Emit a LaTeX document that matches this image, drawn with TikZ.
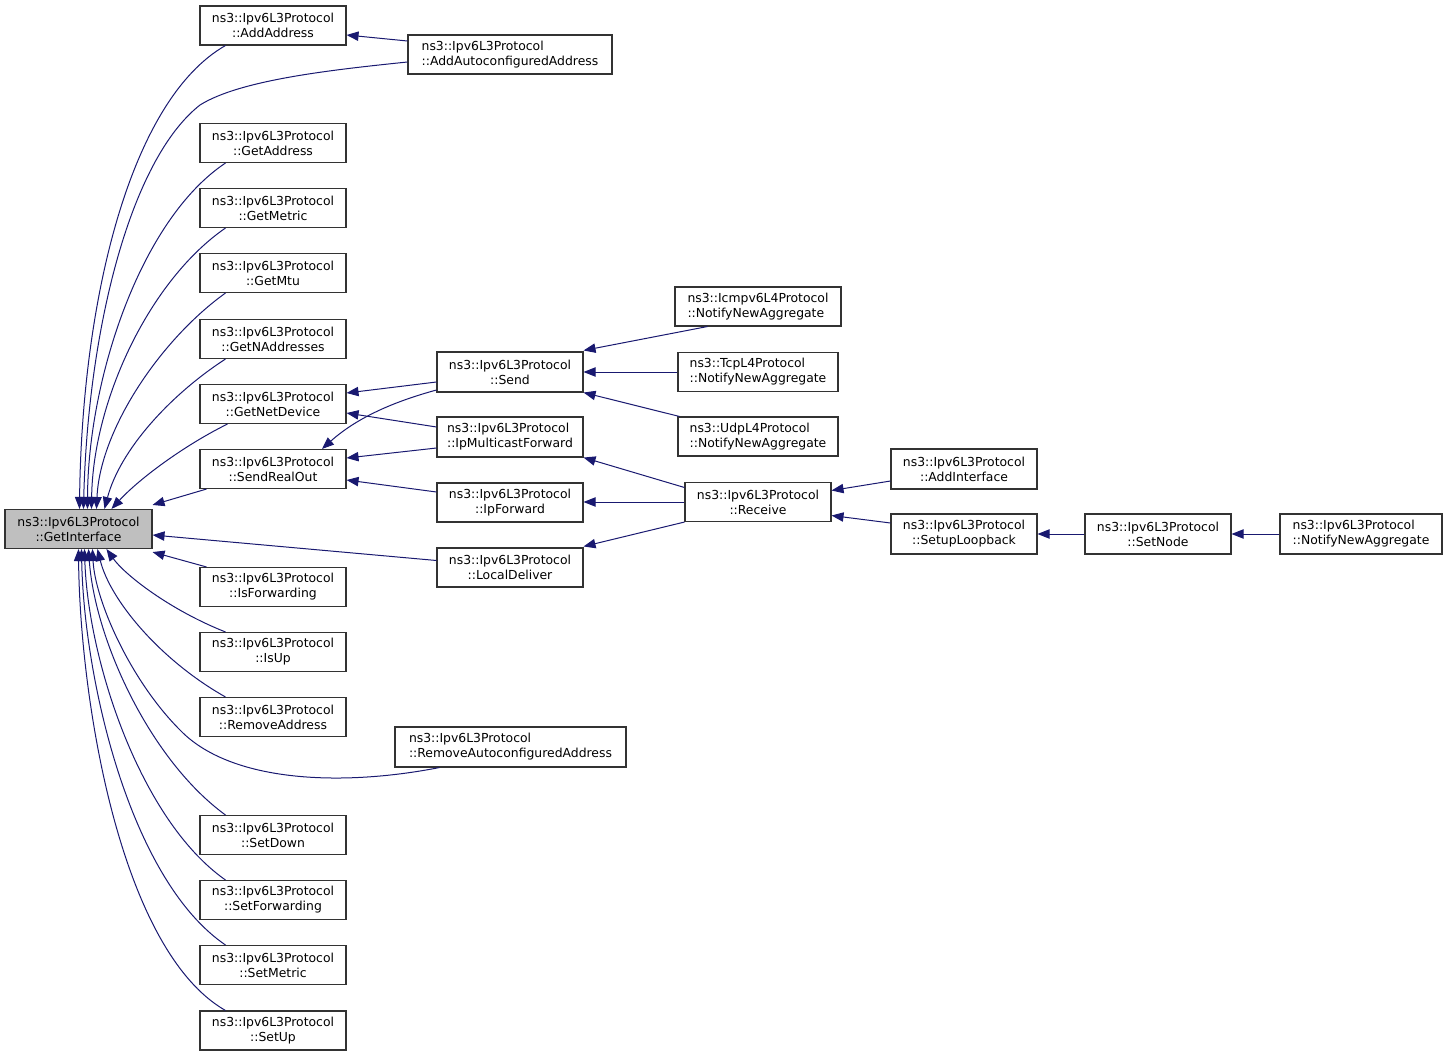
\documentclass[tikz,border=0pt]{standalone}
\usepackage{fontspec}
\setmainfont{DejaVu Sans}
\usetikzlibrary{arrows.meta,calc}
\definecolor{edgecol}{HTML}{191970}
\definecolor{boxline}{HTML}{333333}
\definecolor{hifill}{HTML}{BFBFBF}
\begin{document}
\begin{tikzpicture}[x=0.75pt,y=-0.75pt,
  box/.style={draw=boxline,line width=0.8pt,fill=white,inner sep=0pt,align=center,
    minimum height=29.25pt,font=\fontsize{9.3}{11.2}\selectfont},
  lbox/.style={box,align=left},
  w146/.style={minimum width=109.5pt},
  edge/.style={draw=edgecol,line width=0.75pt,-{Triangle[length=9pt,width=7pt]}}]
\useasboundingbox (0,0) rectangle (1448,1056);
% nodes
\node[box,w146,minimum width=110.25pt,fill=hifill] (GI) at (78.5,529) {ns3::Ipv6L3Protocol\\::GetInterface};
\node[box,w146] (AA) at (273,25.5) {ns3::Ipv6L3Protocol\\::AddAddress};
\node[lbox,minimum width=153pt] (AAC) at (510,54.5) {ns3::Ipv6L3Protocol\\::AddAutoconfiguredAddress};
\node[box,w146] (GA) at (273,143) {ns3::Ipv6L3Protocol\\::GetAddress};
\node[box,w146] (GM) at (273,208) {ns3::Ipv6L3Protocol\\::GetMetric};
\node[box,w146] (GMtu) at (273,273) {ns3::Ipv6L3Protocol\\::GetMtu};
\node[box,w146] (GN) at (273,339) {ns3::Ipv6L3Protocol\\::GetNAddresses};
\node[box,w146] (GND) at (273,404) {ns3::Ipv6L3Protocol\\::GetNetDevice};
\node[box,w146] (SRO) at (273,469) {ns3::Ipv6L3Protocol\\::SendRealOut};
\node[box,w146] (IF) at (273,587) {ns3::Ipv6L3Protocol\\::IsForwarding};
\node[box,w146] (IU) at (273,652) {ns3::Ipv6L3Protocol\\::IsUp};
\node[box,w146] (RA) at (273,717) {ns3::Ipv6L3Protocol\\::RemoveAddress};
\node[lbox,minimum width=173.25pt,minimum height=30pt] (RAC) at (510.5,747) {ns3::Ipv6L3Protocol\\::RemoveAutoconfiguredAddress};
\node[box,w146] (SD) at (273,835) {ns3::Ipv6L3Protocol\\::SetDown};
\node[box,w146] (SF) at (273,900) {ns3::Ipv6L3Protocol\\::SetForwarding};
\node[box,w146] (SM) at (273,965) {ns3::Ipv6L3Protocol\\::SetMetric};
\node[box,w146] (SU) at (273,1030.5) {ns3::Ipv6L3Protocol\\::SetUp};
\node[box,w146,minimum height=30pt] (SE) at (510,372) {ns3::Ipv6L3Protocol\\::Send};
\node[lbox,w146,minimum height=30pt] (IMF) at (510,437) {ns3::Ipv6L3Protocol\\::IpMulticastForward};
\node[box,w146] (IPF) at (510,502.5) {ns3::Ipv6L3Protocol\\::IpForward};
\node[box,w146] (LD) at (510,567.5) {ns3::Ipv6L3Protocol\\::LocalDeliver};
\node[lbox,minimum width=124.5pt] (ICM) at (758,306.5) {ns3::Icmpv6L4Protocol\\::NotifyNewAggregate};
\node[lbox,minimum width=120pt] (TCP) at (758,372) {ns3::TcpL4Protocol\\::NotifyNewAggregate};
\node[lbox,minimum width=120pt] (UDP) at (758,436.5) {ns3::UdpL4Protocol\\::NotifyNewAggregate};
\node[box,w146] (RCV) at (758,502) {ns3::Ipv6L3Protocol\\::Receive};
\node[box,w146,minimum height=30pt] (AI) at (964,469) {ns3::Ipv6L3Protocol\\::AddInterface};
\node[box,w146,minimum height=30pt] (SL) at (964,534) {ns3::Ipv6L3Protocol\\::SetupLoopback};
\node[box,w146,minimum height=30pt] (SN) at (1158,534) {ns3::Ipv6L3Protocol\\::SetNode};
\node[lbox,minimum width=121.5pt,minimum height=30pt] (NNA) at (1361,534) {ns3::Ipv6L3Protocol\\::NotifyNewAggregate};
% edges into GetInterface (top)
\draw[edge] ($(AA.south west)+(26,0)$) .. controls (130,100) and (82,300) .. ($(GI.north west)+(75,0)$);
\draw[edge] ($(AAC.west)+(0,7.5)$) .. controls (330,70) and (240,80) .. (200,105) .. controls (130,160) and (88,330) .. ($(GI.north west)+(79,0)$);
\draw[edge] ($(GA.south west)+(26,0)$) .. controls (140,220) and (88,380) .. ($(GI.north west)+(83,0)$);
\draw[edge] ($(GM.south west)+(26,0)$) .. controls (150,280) and (93,400) .. ($(GI.north west)+(87,0)$);
\draw[edge] ($(GMtu.south west)+(26,0)$) .. controls (160,340) and (100,430) .. ($(GI.north west)+(92,0)$);
\draw[edge] ($(GN.south west)+(26,0)$) .. controls (170,395) and (120,450) .. ($(GI.north west)+(100,0)$);
\draw[edge] ($(GND.south west)+(28,0)$) .. controls (185,445) and (140,478) .. ($(GI.north west)+(107,0)$);
\draw[edge] ($(SRO.south west)+(7,0)$) -- ($(GI.north east)+(0,-4)$);
% edges into GetInterface (right / bottom)
\draw[edge] ($(LD.west)+(0,-7)$) -- ($(GI.east)+(0,6)$);
\draw[edge] ($(IF.north west)+(7,0)$) -- ($(GI.south east)+(0,3)$);
\draw[edge] ($(IU.north west)+(26,0)$) .. controls (170,610) and (125,575) .. ($(GI.south west)+(102,0)$);
\draw[edge] ($(RA.north west)+(26,0)$) .. controls (160,660) and (110,600) .. ($(GI.south west)+(93,0)$);
\draw[edge] ($(RAC.south west)+(45,0)$) .. controls (340,787) and (230,782) .. (180,730) .. controls (130,680) and (95,600) .. ($(GI.south west)+(88,0)$);
\draw[edge] ($(SD.north west)+(26,0)$) .. controls (150,760) and (95,640) .. ($(GI.south west)+(84,0)$);
\draw[edge] ($(SF.north west)+(26,0)$) .. controls (140,820) and (88,660) .. ($(GI.south west)+(80,0)$);
\draw[edge] ($(SM.north west)+(26,0)$) .. controls (130,880) and (84,680) .. ($(GI.south west)+(77,0)$);
\draw[edge] ($(SU.north west)+(26,0)$) .. controls (120,950) and (80,700) .. ($(GI.south west)+(74,0)$);
% other edges
\draw[edge] ($(AAC.west)+(0,-13.5)$) -- ($(AA.east)+(0,9.5)$);
\draw[edge] ($(SE.west)+(0,10)$) -- ($(GND.east)+(0,-11)$);
\draw[edge] ($(SE.west)+(0,18)$) .. controls (400,400) and (360,415) .. ($(SRO.north)+(49,0)$);
\draw[edge] ($(IMF.west)+(0,-10)$) -- ($(GND.east)+(0,9)$);
\draw[edge] ($(IMF.west)+(0,11)$) -- ($(SRO.east)+(0,-11)$);
\draw[edge] ($(IPF.west)+(0,-10.5)$) -- ($(SRO.east)+(0,11)$);
\draw[edge] ($(ICM.south west)+(33,0)$) -- ($(SE.north east)+(0,-1)$);
\draw[edge] (TCP.west) -- (TCP.west -| SE.east);
\draw[edge] ($(UDP.north west)+(2,0)$) -- ($(SE.south east)+(0,0)$);
\draw[edge] ($(RCV.west)+(0,-14.5)$) -- ($(IMF.south east)+(0,0)$);
\draw[edge] (RCV.west) -- (RCV.west -| IPF.east);
\draw[edge] ($(RCV.south west)+(0,0)$) -- ($(LD.north east)+(0,-1)$);
\draw[edge] ($(AI.west)+(0,12)$) -- ($(RCV.east)+(0,-11.5)$);
\draw[edge] ($(SL.west)+(0,-11)$) -- ($(RCV.east)+(0,13.5)$);
\draw[edge] (SN.west) -- (SL.east);
\draw[edge] (NNA.west) -- (SN.east);
\end{tikzpicture}
\end{document}
